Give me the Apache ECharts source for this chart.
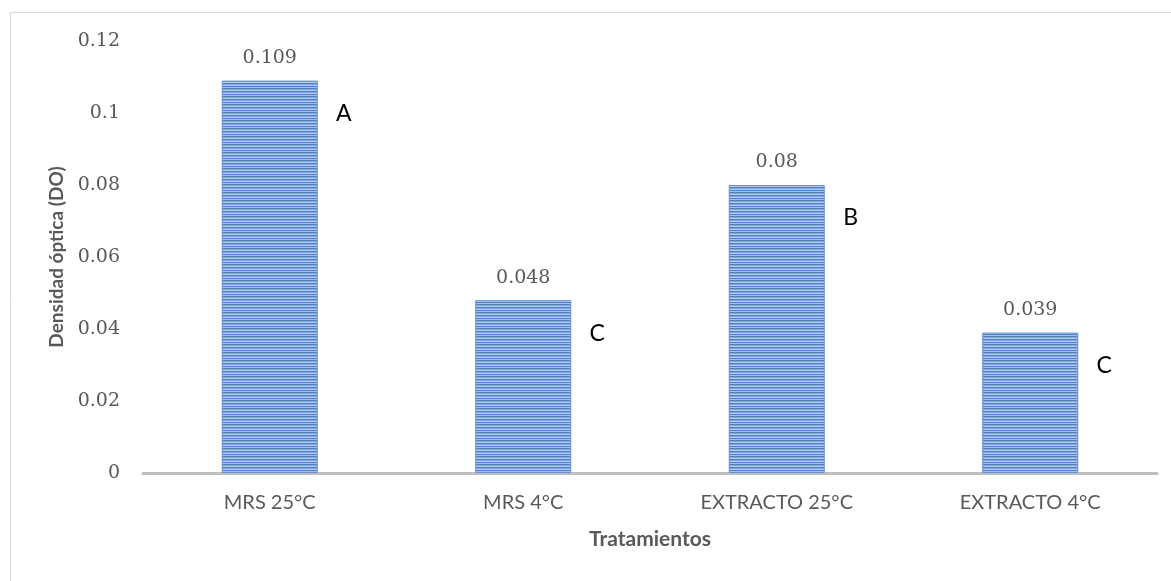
<!DOCTYPE html>
<html>
<head>
<meta charset="utf-8">
<script src="https://cdn.jsdelivr.net/npm/echarts@6/dist/echarts.min.js"></script>
<style>
html,body{margin:0;padding:0;background:#fff;}
#chart{width:1171px;height:581px;}
</style>
</head>
<body>
<div id="chart"></div>
<script>
var categories = ['MRS 25°C', 'MRS 4°C', 'EXTRACTO 25°C', 'EXTRACTO 4°C'];
var values = [0.109, 0.048, 0.08, 0.039];
var letters = ['A', 'C', 'B', 'C'];
var yTicks = [0, 0.02, 0.04, 0.06, 0.08, 0.1, 0.12];

// striped fill pattern
var pc = document.createElement('canvas');
pc.width = 4; pc.height = 8;
var pctx = pc.getContext('2d');
var rows = ['#4f80cb', '#7fa6e0', '#b3cbef', '#4f80cb', '#7fa6e0', '#b3cbef', '#4f80cb', '#a6c1ec'];
for (var i = 0; i < rows.length; i++) { pctx.fillStyle = rows[i]; pctx.fillRect(0, i, 4, 1); }

var chart = echarts.init(document.getElementById('chart'));
chart.setOption({
  animation: false,
  backgroundColor: '#fff',
  graphic: [{
    type: 'rect', left: 8, top: 10, z: -1,
    shape: { width: 1300, height: 700 },
    style: { fill: 'none', stroke: '#d9d9d9', lineWidth: 1 }
  }],
  grid: { left: 143, right: 14, top: 41, bottom: 108 },
  xAxis: {
    type: 'category',
    data: categories,
    name: 'Tratamientos',
    nameLocation: 'middle',
    nameGap: 56,
    nameTextStyle: { fontFamily: 'Lato', fontWeight: 'bold', fontSize: 21, color: '#595959' },
    axisLine: { lineStyle: { color: '#bfbfbf', width: 3 } },
    axisTick: { show: false },
    axisLabel: { fontFamily: 'Lato', fontSize: 20, color: '#595959', margin: 20 }
  },
  yAxis: {
    type: 'value',
    min: 0, max: 0.12, interval: 0.02,
    name: 'Densidad óptica (DO)',
    nameLocation: 'middle',
    nameGap: 76,
    nameTextStyle: { fontFamily: 'Lato', fontWeight: 'bold', fontSize: 19, color: '#595959' },
    axisLine: { show: false },
    axisTick: { show: false },
    splitLine: { show: false },
    axisLabel: {
      fontFamily: 'DejaVu Serif', fontSize: 19, color: '#595959', margin: 23,
      formatter: function (v) {
        for (var k = 0; k < yTicks.length; k++) { if (Math.abs(yTicks[k] - v) < 1e-9) return String(yTicks[k]); }
        return '';
      }
    }
  },
  series: [{
    type: 'bar',
    data: values,
    barWidth: 96,
    itemStyle: { color: { image: pc, repeat: 'repeat' }, borderColor: '#6590d3', borderWidth: 1 },
    label: {
      show: true, position: 'top', distance: 13,
      fontFamily: 'DejaVu Serif', fontSize: 19, color: '#595959',
      formatter: function (p) { return String(values[p.dataIndex]); }
    }
  }, {
    type: 'bar',
    data: values,
    barWidth: 96,
    barGap: '-100%',
    itemStyle: { color: 'rgba(0,0,0,0)' },
    label: {
      show: true, position: [122, 33], align: 'center', verticalAlign: 'middle',
      fontFamily: 'Lato', fontSize: 23, color: '#000',
      formatter: function (p) { return letters[p.dataIndex]; }
    }
  }]
});
</script>
</body>
</html>
